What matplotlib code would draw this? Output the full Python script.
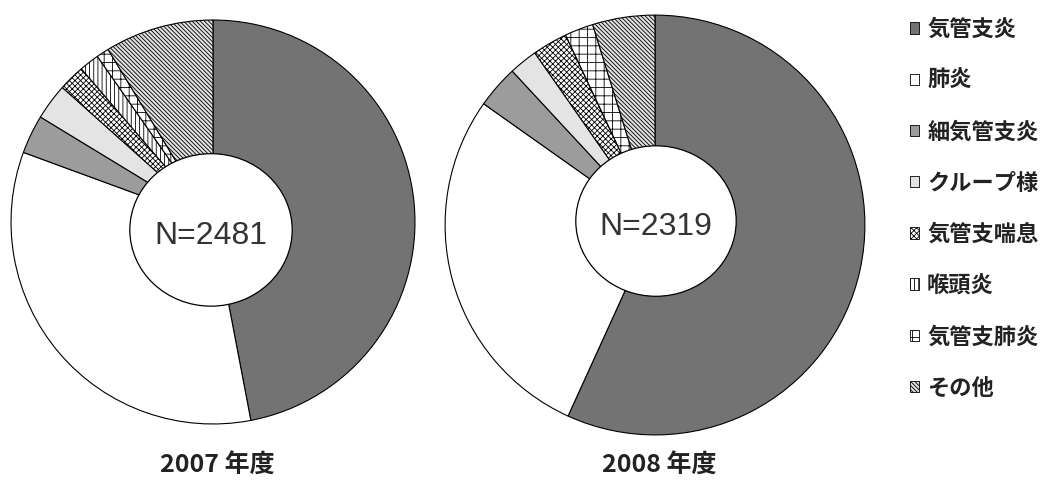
import matplotlib
matplotlib.use('Agg')
import matplotlib.pyplot as plt
from matplotlib.patches import Ellipse, Patch

plt.rcParams['font.family'] = ['Noto Sans CJK JP', 'DejaVu Sans']
plt.rcParams['hatch.linewidth'] = 0.6

# data (percent of cases)
categories = ['気管支炎', '肺炎', '細気管支炎', 'クループ様', '気管支喘息', '喉頭炎', '気管支肺炎', 'その他']
share_2007 = [47.0, 33.6, 3.1, 2.9, 2.1, 1.6, 1.0, 8.7]
share_2008 = [56.8, 28.0, 3.3, 2.2, 2.7, 0.0, 2.2, 4.8]
totals = [2481, 2319]
years = ['2007 年度', '2008 年度']

colors = ['#737373', 'white', '#9c9c9c', '#e4e4e4', 'white', 'white', 'white', '#e0e0e0']
hatches = [None, None, None, None, 'xxxxxx', '||||', '++', '\\\\\\\\\\\\\\\\']

W, H = 1047, 483
fig = plt.figure(figsize=(W / 100, H / 100), dpi=100)

# pie centre, radius, hole offset/size in pixels
layout = [
    dict(cx=213, cy=222, r=204, hx=-2, hy=8, hrx=82, hry=77),
    dict(cx=655, cy=225, r=212, hx=1, hy=-4, hrx=81, hry=76),
]

for shares, n, year, L in zip([share_2007, share_2008], totals, years, layout):
    r = L['r']
    ax = fig.add_axes([(L['cx'] - r) / W, (H - L['cy'] - r) / H, 2 * r / W, 2 * r / H])
    wedges, _ = ax.pie(shares, colors=colors, startangle=90, counterclock=False,
                       radius=1, wedgeprops=dict(edgecolor='black', linewidth=0.8))
    for w, h in zip(wedges, hatches):
        if h:
            w.set_hatch(h)
    ax.add_patch(Ellipse((L['hx'] / r, -L['hy'] / r), 2 * L['hrx'] / r, 2 * L['hry'] / r,
                         facecolor='white', edgecolor='black', linewidth=0.9, zorder=5))
    ax.text(L['hx'] / r, -L['hy'] / r - 0.03, 'N=%d' % n, ha='center', va='center',
            fontsize=23, family='Liberation Sans', color='#333333', zorder=6)
    ax.set_xlim(-1.01, 1.01)
    ax.set_ylim(-1.01, 1.01)
    ax.set_aspect('equal')
    ax.axis('off')
    fig.text(L['cx'] / W + 0.004, 1 - 466 / H, year, ha='center', va='center',
             fontsize=18, fontweight='bold', color='#222222')

handles = [Patch(facecolor=c, edgecolor='black', hatch=h, linewidth=0.6)
           for c, h in zip(colors, hatches)]
fig.legend(handles, categories, loc='upper left', bbox_to_anchor=(890 / W, 1 + 2 / H),
           frameon=False, prop=dict(size=16, weight='bold'),
           labelcolor='#222222',
           handlelength=0.42, handleheight=0.42, handletextpad=0.35, labelspacing=1.27)

fig.savefig('out.png', dpi=100)
